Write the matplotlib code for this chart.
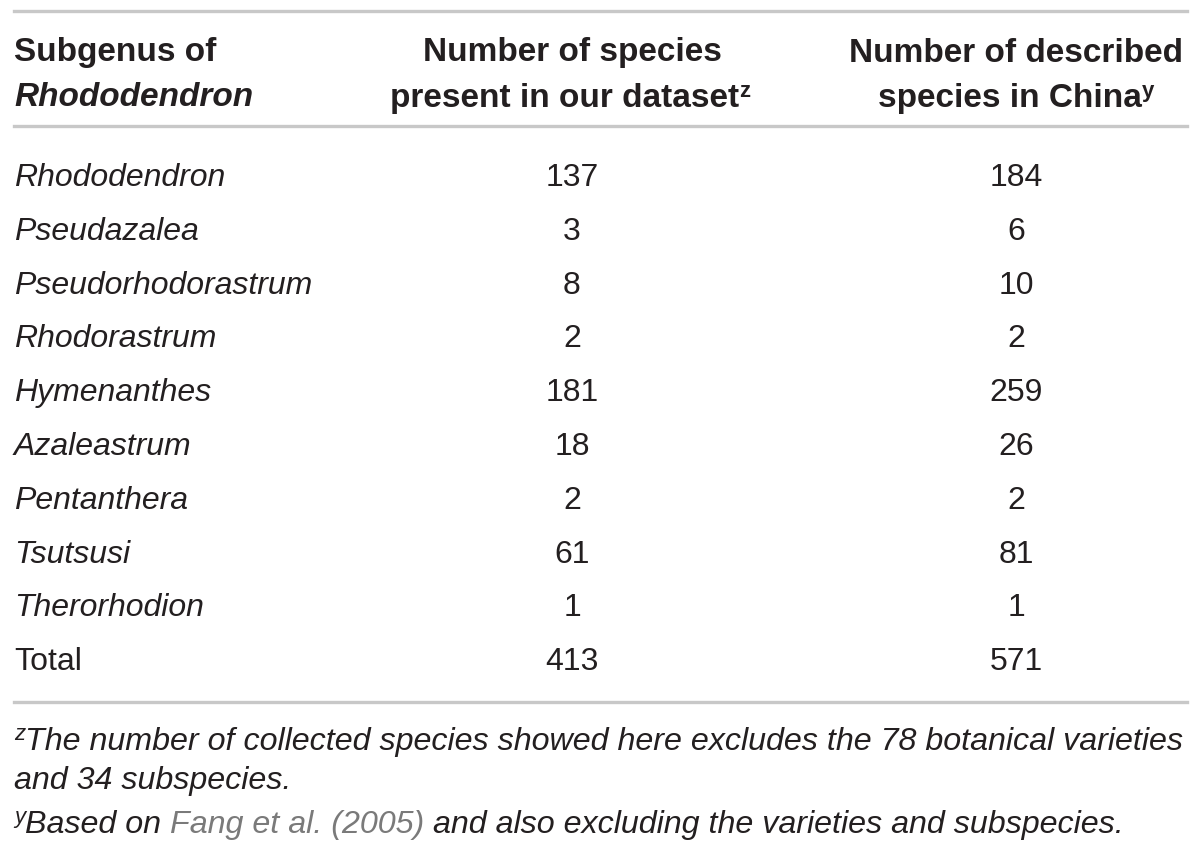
import matplotlib
matplotlib.use("Agg")
import matplotlib.pyplot as plt
from matplotlib.text import Annotation

subgenera = ["Rhododendron", "Pseudazalea", "Pseudorhodorastrum", "Rhodorastrum",
             "Hymenanthes", "Azaleastrum", "Pentanthera", "Tsutsusi", "Therorhodion"]
dataset_counts = [137, 3, 8, 2, 181, 18, 2, 61, 1]
china_counts = [184, 6, 10, 2, 259, 26, 2, 81, 1]
total_label = "Total"
total_dataset = 413
total_china = 571

header_col1 = ["Subgenus of", "Rhododendron"]
header_col2 = ["Number of species", "present in our dataset"]
header_col3 = ["Number of described", "species in China"]
footnote_z = ["The number of collected species showed here excludes the 78 botanical varieties",
              "and 34 subspecies."]
footnote_y = ["Based on ", "Fang et al. (2005)", " and also excluding the varieties and subspecies."]

W, H = 1200, 853
fig = plt.figure(figsize=(W / 100, H / 100), dpi=100)
fig.patch.set_facecolor("white")
plt.rcParams["font.family"] = ["Liberation Sans", "DejaVu Sans"]

TXT = "#231f20"
LINE = "#c8c8c8"
FS = 23
FH = 24
FN = 23.2


def px(x, y):
    return x / W, 1 - y / H


def hline(y):
    x0, y0 = px(14, y)
    x1, _ = px(1187, y)
    fig.add_artist(plt.Line2D([x0, x1], [y0, y0], color=LINE, lw=2.4,
                              transform=fig.transFigure))


hline(12)
hline(127)
hline(703)

COL1 = 14
COL2 = 572
COL3 = 1016

# headers
fig.text(*px(COL1, 53), header_col1[0], ha="left", va="center", fontsize=FH,
         fontweight="bold", color=TXT)
fig.text(*px(COL1, 98), header_col1[1], ha="left", va="center", fontsize=FH,
         fontweight="bold", fontstyle="italic", color=TXT)
fig.text(*px(COL2, 53), header_col2[0], ha="center", va="center", fontsize=FH,
         fontweight="bold", color=TXT)
t2 = fig.text(*px(COL2 - 7, 98), header_col2[1], ha="center", va="center", fontsize=FH,
              fontweight="bold", color=TXT)
fig.text(*px(COL3, 53), header_col3[0], ha="center", va="center", fontsize=FH,
         fontweight="bold", color=TXT)
t3 = fig.text(*px(COL3 - 6, 98), header_col3[1], ha="center", va="center", fontsize=FH,
              fontweight="bold", color=TXT)
for t, s in ((t2, "z"), (t3, "y")):
    fig.add_artist(Annotation(s, xy=(1, 1), xycoords=t, xytext=(0, 1),
                              textcoords="offset points", ha="left", va="top",
                              fontsize=16, fontweight="bold", color=TXT))

# body rows
row_y0 = 178
row_dy = 53.8
rows = list(zip(subgenera, dataset_counts, china_counts))
for i, (name, a, b) in enumerate(rows):
    y = row_y0 + i * row_dy
    fig.text(*px(COL1, y), name, ha="left", va="center", fontsize=FS,
             fontstyle="italic", color=TXT)
    fig.text(*px(COL2, y), str(a), ha="center", va="center", fontsize=FS, color=TXT)
    fig.text(*px(COL3, y), str(b), ha="center", va="center", fontsize=FS, color=TXT)
y = row_y0 + len(rows) * row_dy
fig.text(*px(COL1, y), total_label, ha="left", va="center", fontsize=FS, color=TXT)
fig.text(*px(COL2, y), str(total_dataset), ha="center", va="center", fontsize=FS, color=TXT)
fig.text(*px(COL3, y), str(total_china), ha="center", va="center", fontsize=FS, color=TXT)

# footnotes
fz = fig.text(*px(14, 735), "z", ha="left", va="center", fontsize=16, color=TXT,
              fontstyle="italic")
fig.add_artist(Annotation(footnote_z[0], xy=(1, 0.0), xycoords=fz,
                          xytext=(0, -8), textcoords="offset points",
                          ha="left", va="bottom", fontsize=FN,
                          fontstyle="italic", color=TXT))
fig.text(*px(14, 781), footnote_z[1], ha="left", va="center", fontsize=FN,
         fontstyle="italic", color=TXT)

fy = fig.text(*px(14, 818), "y", ha="left", va="center", fontsize=16, color=TXT,
              fontstyle="italic")
prev = fy
colors = [TXT, "#7a7a7a", TXT]
offsets = [(0, -8), (0, 0), (0, 0)]
for seg, c, off in zip(footnote_y, colors, offsets):
    a = Annotation(seg, xy=(1, 0), xycoords=prev, xytext=off,
                   textcoords="offset points", ha="left", va="bottom",
                   fontsize=FN, fontstyle="italic", color=c)
    fig.add_artist(a)
    prev = a

fig.savefig("out.png", dpi=100, facecolor="white")
